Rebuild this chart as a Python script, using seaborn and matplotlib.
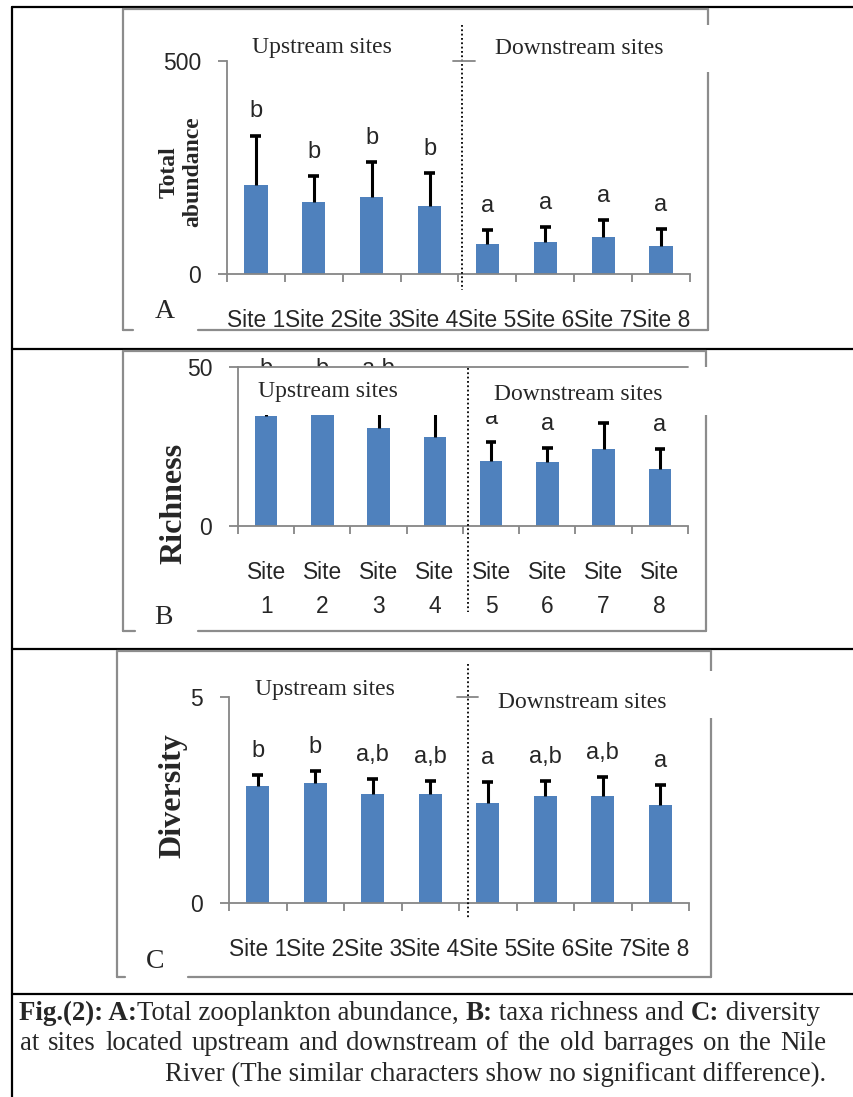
import matplotlib
matplotlib.use("Agg")
import matplotlib.pyplot as plt
from matplotlib.lines import Line2D
from matplotlib.patches import Rectangle
import numpy as np
import pandas as pd
import seaborn as sns

# data
sites = ["Site 1", "Site 2", "Site 3", "Site 4", "Site 5", "Site 6", "Site 7", "Site 8"]

abundance_mean = [208, 168, 181, 160, 70, 76, 87, 66]
abundance_err = [117, 62, 81, 77, 34, 34, 40, 40]
abundance_letters = ["b", "b", "b", "b", "a", "a", "a", "a"]

richness_mean = [34.7, 36.5, 30.8, 27.9, 20.4, 20.0, 24.1, 17.8]
richness_err = [7.1, 5.3, 11.0, 9.0, 6.0, 4.5, 8.3, 6.5]
richness_letters = ["b", "b", "a,b", "a,b", "a", "a", "a", "a"]

diversity_mean = [2.84, 2.91, 2.65, 2.65, 2.43, 2.59, 2.60, 2.38]
diversity_err = [0.26, 0.29, 0.37, 0.31, 0.50, 0.36, 0.46, 0.49]
diversity_letters = ["b", "b", "a,b", "a,b", "a", "a,b", "a,b", "a"]

W, H = 854, 1097
BAR = "#4F81BD"
GRAY = "#868686"
FRAME = "#8c8c8c"
SERIF = ["Liberation Serif", "DejaVu Serif"]
SANS = ["Liberation Sans", "DejaVu Sans"]

sns.set_style("white")
plt.rcParams["font.family"] = SANS

fig = plt.figure(figsize=(W / 100, H / 100), dpi=100)


def fx(px):
    return px / W


def fy(py):
    return 1 - py / H


def fig_line(xs, ys, color, lw, zorder=0, **kw):
    ln = Line2D([fx(x) for x in xs], [fy(y) for y in ys], transform=fig.transFigure,
                color=color, lw=lw, zorder=zorder, **kw)
    fig.lines.append(ln)
    return ln


# outer table borders
fig_line([12, 12], [7, H], "black", 1.6)
for yy in [7, 349, 649, 994]:
    fig_line([12, W], [yy, yy], "black", 1.6)


def frame(l, t, r, b, gap):
    fig_line([l, r], [t, t], FRAME, 1.6)
    fig_line([l, l], [t, b], FRAME, 1.6)
    fig_line([r, r], [t, b], FRAME, 1.6)
    fig_line([l, gap[0]], [b, b], FRAME, 1.6)
    fig_line([gap[1], r], [b, b], FRAME, 1.6)


def panel(box, means, errs, letters, ymax, ticklabels, divider):
    left, top, right, bottom = box
    ax = fig.add_axes([fx(left), fy(bottom), (right - left) / W, (bottom - top) / H])
    ax.set_zorder(1)
    ax.patch.set_visible(False)
    df = pd.DataFrame({"site": sites, "value": means})
    sns.barplot(data=df, x="site", y="value", color=BAR, width=0.4, saturation=1,
                errorbar=None, linewidth=0, ax=ax, zorder=1)
    xpos = np.arange(len(sites))
    tops = np.array(means) + np.array(errs)
    ax.vlines(xpos, means, tops, color="black", lw=2.2, zorder=2)
    ax.hlines(tops, xpos - 0.095, xpos + 0.095, color="black", lw=2.6, zorder=2)
    for x, t, s in zip(xpos, tops, letters):
        ax.annotate(s, (x, t), xytext=(0, 13), textcoords="offset points",
                    ha="center", va="baseline", fontsize=17, family=SANS, zorder=3,
                    annotation_clip=False)
    ax.set_xlim(-0.5, len(sites) - 0.5)
    ax.set_ylim(0, ymax)
    ax.set_xlabel("")
    ax.set_ylabel("")
    for s in ["top", "right"]:
        ax.spines[s].set_visible(False)
    for s in ["left", "bottom"]:
        ax.spines[s].set_color(GRAY)
        ax.spines[s].set_linewidth(1.3)
    ax.set_yticks([0, ymax])
    ax.tick_params(axis="y", length=6.5, width=1.3, color=GRAY, pad=12,
                   labelsize=16.5, direction="out", left=True)
    ax.set_xticks(xpos)
    ax.set_xticklabels(ticklabels, linespacing=1.6)
    ax.set_xticks(np.arange(-0.5, len(sites)), minor=True)
    ax.tick_params(axis="x", which="major", length=0, pad=25, labelsize=16.4)
    ax.tick_params(axis="x", which="minor", length=6, width=1.3, color=GRAY,
                   direction="out", bottom=True)
    dx, y0, y1 = divider
    ax.plot([dx, dx], [y0, y1], transform=ax.get_xaxis_transform(), clip_on=False,
            color="black", lw=1.3, ls=(0, (1, 1.4)), zorder=6)
    return ax


def white_box(ax, l, t, r, b):
    ax.add_patch(Rectangle((fx(l), fy(b)), fx(r) - fx(l), (b - t) / H,
                           transform=fig.transFigure, facecolor="white",
                           edgecolor="none", clip_on=False, zorder=5))


def label(x, y, s, size, **kw):
    fig.text(fx(x), fy(y), s, ha="center", va="center", fontsize=size,
             family=SERIF, zorder=7, **kw)


# ---- panel A
frame(123, 9, 708, 330, (133, 198))
axA = panel((227, 61, 690, 274), abundance_mean, abundance_err, abundance_letters,
            500, sites, (3.56, 1.17, -0.075))
white_box(axA, 478, 25, 716, 72)
fig_line([453, 475], [61, 61], GRAY, 1.3, zorder=8)
label(322, 48, "Upstream sites", 17)
label(579, 49, "Downstream sites", 17)
label(181, 172, "Total\nabundance", 17, rotation=90, fontweight="bold", linespacing=1.2)
label(165, 312, "A", 20)

# ---- panel B
frame(123, 351, 706, 631, (135, 198))
axB = panel((238, 367, 688, 526), richness_mean, richness_err, richness_letters,
            50, [s.replace(" ", "\n") for s in sites], (3.59, 0.995, -0.54))
white_box(axB, 240, 367, 716, 415)
axB.axhline(50, color=GRAY, lw=1.3, zorder=5.5, clip_on=False)
label(328, 391, "Upstream sites", 17)
label(578, 394, "Downstream sites", 17)
label(174, 503, "Richness", 23, rotation=90, fontweight="bold")
label(163, 617, "B", 20)

# ---- panel C
frame(117, 651, 711, 977, (125, 188))
axC = panel((229, 697, 689, 903), diversity_mean, diversity_err, diversity_letters,
            5, sites, (3.66, 1.16, -0.08))
white_box(axC, 480, 671, 718, 718)
fig_line([457, 478], [697, 697], GRAY, 1.3, zorder=8)
label(325, 690, "Upstream sites", 17)
label(582, 703, "Downstream sites", 17)
label(173, 796, "Diversity", 23, rotation=90, fontweight="bold")
label(155, 962, "C", 20)

# ---- caption, mixed bold / regular
renderer = fig.canvas.get_renderer()
CAP = 19.4


def text_w(s, bold):
    kw = dict(fontsize=CAP, family=SERIF, fontweight="bold" if bold else "normal")
    t1 = fig.text(0, 0, "|" + s + "|", **kw)
    t0 = fig.text(0, 0, "||", **kw)
    w = t1.get_window_extent(renderer).width - t0.get_window_extent(renderer).width
    t1.remove()
    t0.remove()
    return w


def put(s, x, y, bold=False):
    fig.text(fx(x), fy(y), s, fontsize=CAP, family=SERIF,
             fontweight="bold" if bold else "normal", ha="left", va="baseline")


def caption_line(parts, x_right, y_base):
    widths = [text_w(s, b) for s, b in parts]
    x = x_right - sum(widths)
    for (s, b), w in zip(parts, widths):
        put(s, x, y_base, b)
        x += w


def justified_line(s, x_left, x_right, y_base):
    words = s.split(" ")
    widths = [text_w(wd, False) for wd in words]
    gap = (x_right - x_left - sum(widths)) / (len(words) - 1)
    x = x_left
    for wd, w in zip(words, widths):
        put(wd, x, y_base)
        x += w + gap


caption_line([("Fig.(2): A:", True), ("Total zooplankton abundance, ", False),
              ("B:", True), (" taxa richness and ", False), ("C:", True),
              (" diversity", False)], 820, 1020)
justified_line("at sites located upstream and downstream of the old barrages on the Nile",
               20, 826, 1050)
caption_line([("River (The similar characters show no significant difference).", False)],
             826, 1081)

fig.savefig("out.png", dpi=100)
